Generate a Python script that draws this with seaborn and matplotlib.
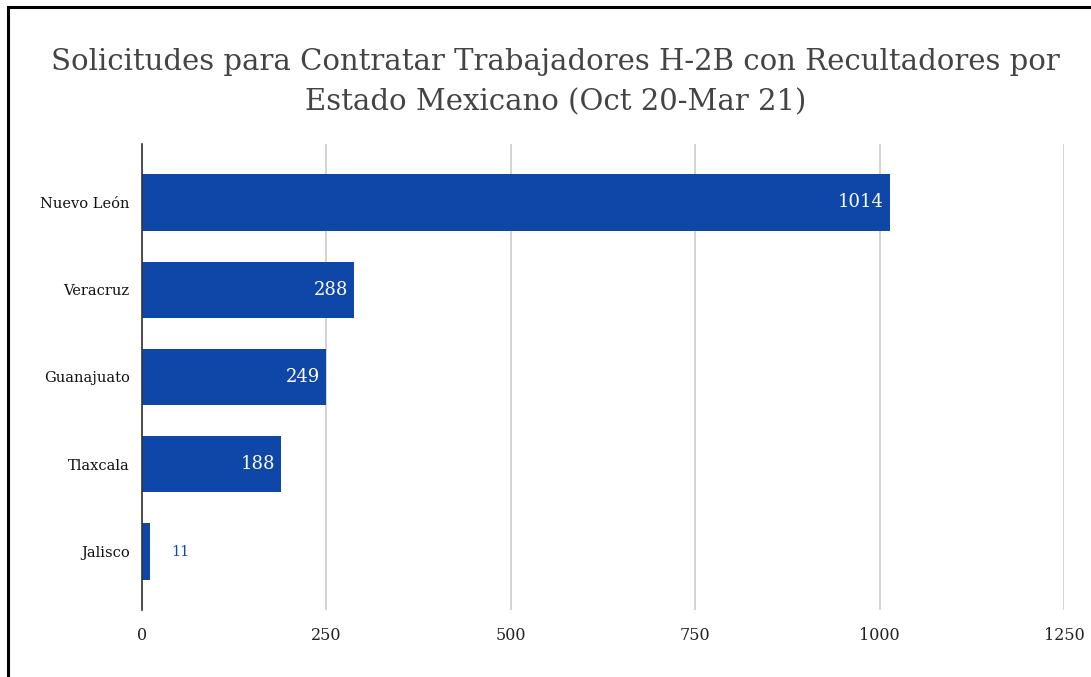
import matplotlib
matplotlib.use("Agg")
import matplotlib.pyplot as plt
import seaborn as sns
import pandas as pd
from matplotlib.patches import Rectangle

estados = ["Nuevo León", "Veracruz", "Guanajuato", "Tlaxcala", "Jalisco"]
solicitudes = [1014, 288, 249, 188, 11]
x_ticks = [0, 250, 500, 750, 1000, 1250]
titulo = "Solicitudes para Contratar Trabajadores H-2B con Recultadores por\nEstado Mexicano (Oct 20-Mar 21)"

df = pd.DataFrame({"estado": estados, "n": solicitudes})

sns.set_theme(style="white")
plt.rcParams['font.family'] = ['DejaVu Serif', 'DejaVu Sans']

fig = plt.figure(figsize=(10.91, 6.77), dpi=100)
ax = fig.add_axes([0.1302, 0.0990, 0.9753 - 0.1302, 0.7873 - 0.0990])

bar_color = "#0F47A8"
sns.barplot(data=df, x="n", y="estado", color=bar_color, width=0.645,
            ax=ax, saturation=1, edgecolor="none")

ax.set_xlim(0, 1250)
ax.set_ylim(4.67, -0.67)
ax.set_xticks(x_ticks)
ax.set_xticklabels([str(t) for t in x_ticks], fontsize=11.5, color="#222222")
ax.tick_params(axis="x", length=0, pad=12)
ax.tick_params(axis="y", length=0, pad=9, labelsize=10.5, labelcolor="#111111")
ax.set_xlabel("")
ax.set_ylabel("")
ax.grid(axis="x", color="#cccccc", linewidth=1.2)
ax.set_axisbelow(True)
for s in ["top", "right", "bottom"]:
    ax.spines[s].set_visible(False)
ax.spines["left"].set_color("#333333")
ax.spines["left"].set_linewidth(1.2)
ax.spines["left"].set_zorder(5)

for i, v in enumerate(solicitudes):
    if v > 100:
        ax.text(v - 8, i, str(v), ha="right", va="center", color="white", fontsize=13)
    else:
        ax.text(v + 28, i, str(v), ha="left", va="center", color=bar_color, fontsize=10.5)

fig.text(0.509, 1 - 82.5 / 677, titulo, ha="center", va="center", fontsize=21,
         color="#444444", linespacing=1.55)

fig.patches.append(Rectangle((8 / 1091, -0.05), 1.2, 1 - 7 / 677 + 0.05,
                             transform=fig.transFigure, fill=False,
                             edgecolor="black", linewidth=2.2))

fig.savefig("out.png", dpi=100)
